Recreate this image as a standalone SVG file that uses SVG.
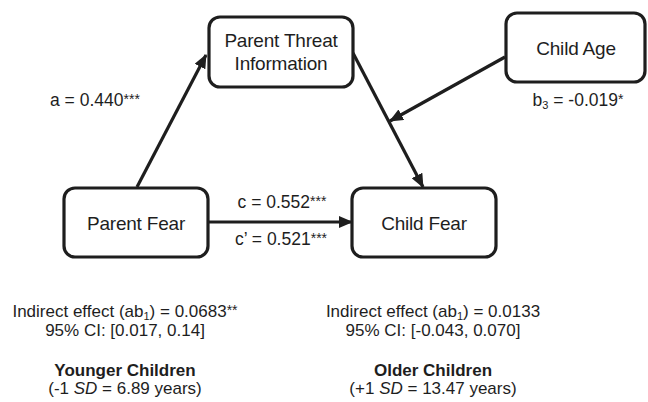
<svg xmlns="http://www.w3.org/2000/svg" width="648" height="402" viewBox="0 0 648 402">
<style>
text{font-family:"Liberation Sans",Arial,sans-serif;fill:#1e1e1e}
.node rect{fill:#fff;stroke:#1e1e1e;stroke-width:3.2}
.nl{font-size:19px;text-anchor:middle;letter-spacing:-0.2px}
.lb{font-size:17.5px}
.bt{font-size:17px;text-anchor:middle}
.bold{font-weight:bold}
.sm{font-size:11px}
.ast{font-size:14px}
.conn line{stroke:#1e1e1e;stroke-width:3.2}
</style>
<defs>
<marker id="ah" markerUnits="userSpaceOnUse" markerWidth="14" markerHeight="12" viewBox="0 0 14 12" refX="13" refY="6" orient="auto">
<path d="M0,0 L14,6 L0,12 Z" fill="#1e1e1e"/>
</marker>
</defs>
<rect width="648" height="402" fill="#fff"/>
<g id="connectors" class="conn">
<line x1="137" y1="187" x2="206" y2="55" marker-end="url(#ah)"/>
<line x1="353" y1="53" x2="423" y2="187" marker-end="url(#ah)"/>
<line x1="505" y1="57" x2="390" y2="121" marker-end="url(#ah)"/>
<line x1="209" y1="222" x2="352" y2="222" marker-end="url(#ah)"/>
</g>
<g id="node-pti" class="node">
<rect x="209" y="17" width="144" height="70" rx="11"/>
<text class="nl" x="281" y="47">Parent Threat</text>
<text class="nl" x="281" y="70">Information</text>
</g>
<g id="node-age" class="node">
<rect x="506" y="13" width="139" height="69" rx="11"/>
<text class="nl" x="576" y="55">Child Age</text>
</g>
<g id="node-pfear" class="node">
<rect x="64" y="188" width="144" height="69" rx="11"/>
<text class="nl" x="136" y="230">Parent Fear</text>
</g>
<g id="node-cfear" class="node">
<rect x="352" y="188" width="144" height="69" rx="11"/>
<text class="nl" x="424" y="230">Child Fear</text>
</g>
<g id="labels">
<text class="lb" x="50" y="106">a = 0.440<tspan class="ast" baseline-shift="2">***</tspan></text>
<text class="lb" x="578" y="106" text-anchor="middle">b<tspan class="sm" baseline-shift="-3">3</tspan> = -0.019<tspan class="ast" baseline-shift="2">*</tspan></text>
<text class="lb" x="282" y="208" text-anchor="middle">c = 0.552<tspan class="ast" baseline-shift="2">***</tspan></text>
<text class="lb" x="281" y="245" text-anchor="middle">c’ = 0.521<tspan class="ast" baseline-shift="2">***</tspan></text>
</g>
<g id="left-summary">
<text class="bt" x="125" y="317">Indirect effect (ab<tspan class="sm" baseline-shift="-3">1</tspan>) = 0.0683<tspan class="ast" baseline-shift="2">**</tspan></text>
<text class="bt" x="125" y="336">95% CI: [0.017, 0.14]</text>
<text class="bt bold" x="125" y="376">Younger Children</text>
<text class="bt" x="125" y="394">(-1 <tspan font-style="italic">SD</tspan> = 6.89 years)</text>
</g>
<g id="right-summary">
<text class="bt" x="433" y="317">Indirect effect (ab<tspan class="sm" baseline-shift="-3">1</tspan>) = 0.0133</text>
<text class="bt" x="433" y="336">95% CI: [-0.043, 0.070]</text>
<text class="bt bold" x="433" y="376">Older Children</text>
<text class="bt" x="433" y="394">(+1 <tspan font-style="italic">SD</tspan> = 13.47 years)</text>
</g>
</svg>
